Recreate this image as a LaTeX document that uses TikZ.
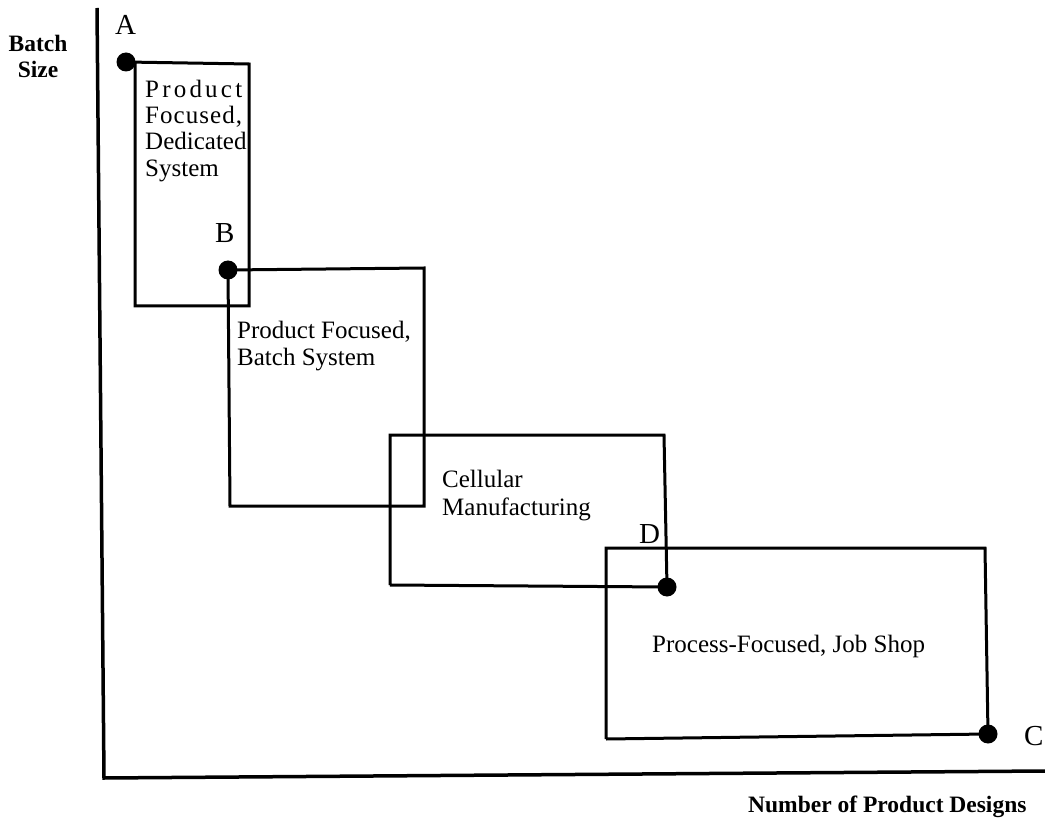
\documentclass[tikz,border=0pt]{standalone}
\usepackage{fontspec}
\setmainfont{Liberation Serif}
\begin{document}
\begin{tikzpicture}[x=1pt,y=-1pt,
  edge/.style={line width=3pt, line join=miter},
  axis/.style={line width=3.5pt},
  dotnode/.style={circle, fill=black, inner sep=0pt, minimum size=19pt},
  lbl/.style={font=\fontsize{25}{27}\selectfont, inner sep=0pt, anchor=base west},
  corner/.style={font=\fontsize{29}{30}\selectfont, inner sep=0pt, anchor=base west},
  axlbl/.style={font=\bfseries\fontsize{23.5}{26}\selectfont, inner sep=0pt}]
\useasboundingbox (0,0) rectangle (1045,821);
% axes
\coordinate (ytop) at (97,8);
\coordinate (origin) at (104,778);
\coordinate (xend) at (1045,771);
\draw[axis] (ytop) -- (origin) -- (xend);
% corner points
\coordinate (A) at (126,62);
\coordinate (B) at (228,270);
\coordinate (D) at (667,587);
\coordinate (C) at (988,734);
% box 1
\coordinate (b1tr) at (249,64);
\coordinate (b1br) at (249,306);
\coordinate (b1bl) at (135,306);
\coordinate (b1tl) at (135,64);
\draw[edge] (A) -- (b1tr) -- (b1br) -- (b1bl) -- (b1tl);
% box 2
\coordinate (b2tr) at (424,268);
\coordinate (b2br) at (424,506);
\coordinate (b2bl) at (230,506);
\draw[edge] (B) -- (b2tr) -- (b2br) -- (b2bl) -- (B);
% box 3
\coordinate (b3tl) at (390,435);
\coordinate (b3tr) at (664,435);
\coordinate (b3bl) at (390,585);
\draw[edge] (b3bl) -- (b3tl) -- (b3tr) -- (D) -- (b3bl);
% box 4
\coordinate (b4tl) at (606,548);
\coordinate (b4tr) at (985,548);
\coordinate (b4bl) at (606,739);
\draw[edge] (b4bl) -- (b4tl) -- (b4tr) -- (C) -- (b4bl);
% dots
\node[dotnode] (dA) at (A) {};
\node[dotnode] (dB) at (B) {};
\node[dotnode] (dD) at (D) {};
\node[dotnode] (dC) at (C) {};
% point labels
\node[corner] (lA) at (115,35) {A};
\node[corner] (lB) at (215,243) {B};
\node[corner] (lD) at (639,543) {D};
\node[corner] (lC) at (1024,745) {C};
% box texts
\node[lbl] (t1a) at (145,98) {\makebox[97pt][s]{P\hfill r\hfill o\hfill d\hfill u\hfill c\hfill t}};
\node[lbl] (t1b) at (145,124) {\makebox[97pt][s]{F\hfill o\hfill c\hfill u\hfill s\hfill e\hfill d\hfill ,}};
\node[lbl] (t1c) at (145,150) {Dedicated};
\node[lbl] (t1d) at (145,177) {System};
\node[lbl] (t2a) at (237,338) {Product Focused,};
\node[lbl] (t2b) at (237,365) {Batch System};
\node[lbl] (t3a) at (442,487) {Cellular};
\node[lbl] (t3b) at (442,515) {Manufacturing};
\node[lbl] (t4) at (652,652) {Process-Focused, Job Shop};
% axis labels
\node[axlbl, anchor=base] (yl1) at (38,52) {Batch};
\node[axlbl, anchor=base] (yl2) at (38,78) {Size};
\node[axlbl, anchor=base west] (xl) at (748,812) {Number of Product Designs};
\end{tikzpicture}
\end{document}
